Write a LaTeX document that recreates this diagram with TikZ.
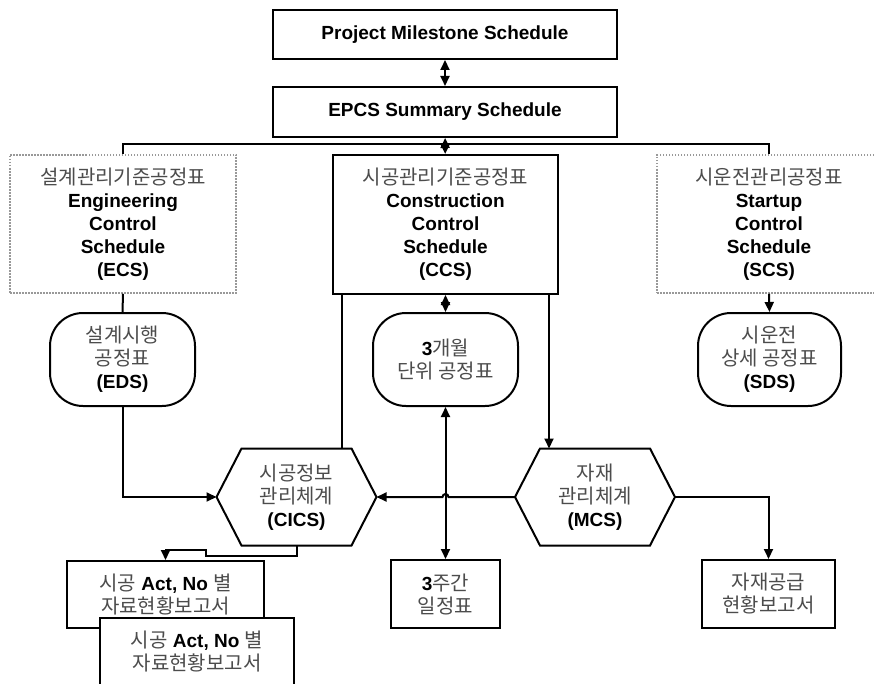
\documentclass[tikz,border=0pt]{standalone}
\usepackage{fontspec}
\setmainfont{Liberation Sans}
\newfontfamily\krfont{Noto Sans CJK KR}
\usetikzlibrary{arrows.meta}
\definecolor{hangul}{gray}{0.3}
\definecolor{dotline}{gray}{0.6}
\newcommand{\kor}[1]{{\krfont\mdseries\fontsize{20}{23}\selectfont\color{hangul}#1}}

\begin{document}
\begin{tikzpicture}[x=1pt,y=1pt,line width=2pt,
    >={Triangle[length=10pt,width=9pt]},
    every node/.style={align=center,inner sep=0pt,
      font=\fontsize{19}{23}\selectfont\bfseries},
    sbox/.style={draw,fill=white,rectangle},
    dotbox/.style={draw=dotline,dash pattern=on 1.5pt off 1.5pt,line width=1.5pt},
    pill/.style={draw,rounded corners=33pt,minimum width=145pt,minimum height=93pt},
    hexa/.style={minimum height=95pt}]
    \useasboundingbox (0,0) rectangle (874,-684);
    \node[sbox,minimum width=344pt,minimum height=49pt] (pms) at (445,-34.5) {Project Milestone Schedule};
    \node[sbox,minimum width=344pt,minimum height=50pt] (epcs) at (445,-112) {EPCS Summary Schedule};
    \node[dotbox,minimum width=226pt,minimum height=138pt] (ecs) at (123,-224)
        {\kor{설계관리기준공정표}\\Engineering\\Control\\Schedule\\(ECS)};
    \node[sbox,minimum width=225pt,minimum height=139pt] (ccs) at (445.5,-224.5)
        {\kor{시공관리기준공정표}\\Construction\\Control\\Schedule\\(CCS)};
    \node[dotbox,minimum width=224pt,minimum height=138pt] (scs) at (769,-224)
        {\kor{시운전관리공정표}\\Startup\\Control\\Schedule\\(SCS)};
    \node[pill] (eds) at (122.5,-359.5) {\kor{설계시행}\\\kor{공정표}\\(EDS)};
    \node[pill] (mon3) at (445.5,-359.5) {3\kor{개월}\\\kor{단위 공정표}};
    \node[pill,minimum width=143pt] (sds) at (769.5,-359.5) {\kor{시운전}\\\kor{상세 공정표}\\(SDS)};
    \node[hexa,minimum width=108pt] (cics) at (296.5,-497) {\kor{시공정보}\\\kor{관리체계}\\(CICS)};
    \node[hexa,minimum width=108pt] (mcs) at (595,-497) {\kor{자재}\\\kor{관리체계}\\(MCS)};
    % hexagon outlines
    \foreach \n in {cics,mcs}
        \draw (\n.north west) -- (\n.north east) -- ([xshift=25pt]\n.east) coordinate (\n-e)
            -- (\n.south east) -- (\n.south west) -- ([xshift=-25pt]\n.west) coordinate (\n-w) -- cycle;
    \node[sbox,minimum width=109pt,minimum height=68pt] (wk3) at (445.5,-594) {3\kor{주간}\\\kor{일정표}};
    \node[sbox,minimum width=133pt,minimum height=68pt] (supply) at (768.5,-594)
        {\kor{자재공급}\\\kor{현황보고서}};
    \node[sbox,minimum width=197pt,minimum height=67pt] (rep1) at (165.5,-594.5)
        {\kor{시공} Act, No \kor{별}\\\kor{자료현황보고서}};
    \coordinate (bus) at (445,-144);
    \coordinate (hop) at (mon3.south |- mcs-w);
    \path[<->]
        (pms) edge (epcs)
        (epcs) edge (ccs)
        (ccs) edge (mon3)
        (mon3) edge (wk3);
    \draw (ecs.north) |- (bus) -| (scs.north);
    \draw (ecs.south) -- (eds.north);
    \draw[->] (scs.south) -- (sds.north);
    \draw[->] (eds.south) |- (cics-w);
    \draw ([xshift=10pt]ccs.south west) coordinate (c1) -- (c1 |- cics.north);
    \draw[->] ([xshift=-10pt]ccs.south east) coordinate (c2) -- (c2 |- mcs.north);
    \draw[->] (mcs-w) -- ([xshift=3pt]hop) arc[start angle=0,end angle=180,radius=3pt] -- (cics-e);
    \draw[->] (mcs-e) -| (supply.north);
    \draw[->] (cics.south) -- ++(0,-10) -| ++(-91,6) -| (rep1.north);
    \node[sbox,minimum width=194pt,minimum height=67pt] (rep2) at (197,-651.5)
        {\kor{시공} Act, No \kor{별}\\\kor{자료현황보고서}};
\end{tikzpicture}
\end{document}
